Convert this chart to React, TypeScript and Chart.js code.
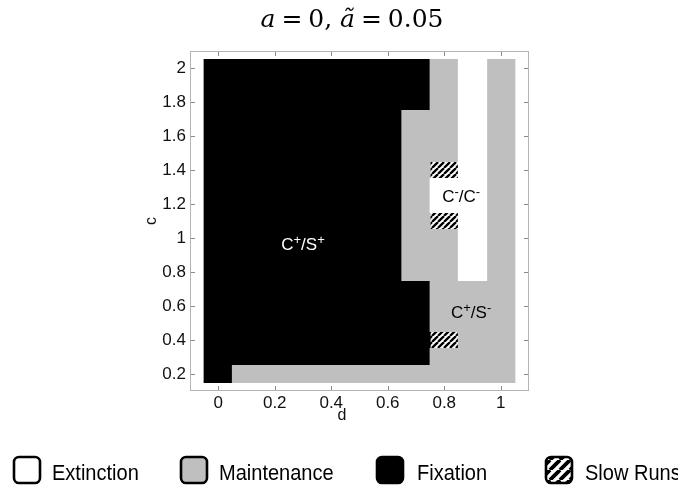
import React, { useEffect, useRef } from "react";
import { Chart, registerables } from "chart.js";

Chart.register(...registerables);

// ---- data ----
const dValues = [0, 0.1, 0.2, 0.3, 0.4, 0.5, 0.6, 0.7, 0.8, 0.9, 1.0];
const cValues = [2.0, 1.9, 1.8, 1.7, 1.6, 1.5, 1.4, 1.3, 1.2, 1.1, 1.0, 0.9, 0.8, 0.7, 0.6, 0.5, 0.4, 0.3, 0.2];
// E = Extinction, M = Maintenance, F = Fixation, S = Slow Runs ; one string per c row, one char per d column
const stateRows = [
  "FFFFFFFFMEM", // 2.0
  "FFFFFFFFMEM", // 1.9
  "FFFFFFFFMEM", // 1.8
  "FFFFFFFMMEM", // 1.7
  "FFFFFFFMMEM", // 1.6
  "FFFFFFFMMEM", // 1.5
  "FFFFFFFMSEM", // 1.4
  "FFFFFFFMEEM", // 1.3
  "FFFFFFFMEEM", // 1.2
  "FFFFFFFMSEM", // 1.1
  "FFFFFFFMMEM", // 1.0
  "FFFFFFFMMEM", // 0.9
  "FFFFFFFMMEM", // 0.8
  "FFFFFFFFMMM", // 0.7
  "FFFFFFFFMMM", // 0.6
  "FFFFFFFFMMM", // 0.5
  "FFFFFFFFSMM", // 0.4
  "FFFFFFFFMMM", // 0.3
  "FMMMMMMMMMM", // 0.2
];
const categoryCodes = ["E", "M", "F", "S"];
const categoryNames = ["Extinction", "Maintenance", "Fixation", "Slow Runs"];
const xTickValues = [0, 0.2, 0.4, 0.6, 0.8, 1];
const yTickValues = [0.2, 0.4, 0.6, 0.8, 1, 1.2, 1.4, 1.6, 1.8, 2];
const regionLabelText = [
  [["C", "+"], ["S", "+"]],
  [["C", "-"], ["C", "-"]],
  [["C", "+"], ["S", "-"]],
];
const regionLabelD = [0.3, 0.86, 0.895];
const regionLabelC = [0.965, 1.25, 0.565];
const regionLabelColor = ["#ffffff", "#000000", "#000000"];

const GRAY = "#bfbfbf";
const SANS = "'Liberation Sans', Arial, sans-serif";
const HALF = 0.05; // half cell height in c units

function makeHatch(size: number, lw: number): CanvasPattern {
  const c = document.createElement("canvas");
  c.width = size;
  c.height = size;
  const g = c.getContext("2d")!;
  g.fillStyle = "#fff";
  g.fillRect(0, 0, size, size);
  g.strokeStyle = "#000";
  g.lineWidth = lw;
  g.beginPath();
  for (let k = -1; k <= 1; k++) {
    g.moveTo(k * size, size);
    g.lineTo(size + k * size, 0);
  }
  g.stroke();
  return g.createPattern(c, "repeat")!;
}

function drawSuperLabel(ctx: CanvasRenderingContext2D, parts: string[][], cx: number, cy: number, color: string) {
  const big = `17px ${SANS}`;
  const small = `13px ${SANS}`;
  const pieces: { t: string; f: string; dy: number }[] = [];
  parts.forEach((p, i) => {
    if (i > 0) pieces.push({ t: "/", f: big, dy: 0 });
    pieces.push({ t: p[0], f: big, dy: 0 });
    pieces.push({ t: p[1] === "-" ? "-" : "+", f: small, dy: -6 });
  });
  let w = 0;
  const ws = pieces.map((p) => {
    ctx.font = p.f;
    const m = ctx.measureText(p.t).width;
    w += m;
    return m;
  });
  let x = cx - w / 2;
  ctx.fillStyle = color;
  ctx.textBaseline = "alphabetic";
  ctx.textAlign = "left";
  pieces.forEach((p, i) => {
    ctx.font = p.f;
    ctx.fillText(p.t, x, cy + 6 + p.dy);
    x += ws[i];
  });
}

export default function App() {
  const ref = useRef<HTMLCanvasElement>(null);

  useEffect(() => {
    const canvas = ref.current!;
    const cellHatch = makeHatch(6, 2.3);
    const legendHatch = makeHatch(10, 3.8);
    const fills = ["#ffffff", GRAY, "#000000", cellHatch];

    // one floating bar per vertical run of equal state in each d column
    const datasets = categoryCodes.map((code, k) => {
      const data: { x: number; y: [number, number] }[] = [];
      dValues.forEach((d, j) => {
        let r = 0;
        while (r < cValues.length) {
          if (stateRows[r][j] !== code) {
            r++;
            continue;
          }
          let e = r;
          while (e + 1 < cValues.length && stateRows[e + 1][j] === code) e++;
          data.push({ x: d, y: [cValues[e] - HALF, cValues[r] + HALF] });
          r = e + 1;
        }
      });
      return {
        label: categoryNames[k],
        data,
        backgroundColor: fills[k] as any,
        borderWidth: 0,
        grouped: false,
        barPercentage: 1,
        categoryPercentage: 1,
        inflateAmount: 0.5,
      };
    });

    const decor = {
      id: "decor",
      afterDraw(chart: any) {
        const ctx: CanvasRenderingContext2D = chart.ctx;
        const xs = chart.scales.x;
        const ys = chart.scales.y;
        const { left, right, top, bottom } = chart.chartArea;
        ctx.save();
        // box
        ctx.strokeStyle = "#b4b4b4";
        ctx.lineWidth = 1;
        ctx.strokeRect(Math.round(left) + 0.5, Math.round(top) + 0.5, Math.round(right - left) - 1, Math.round(bottom - top) - 1);
        // inward ticks
        ctx.strokeStyle = "#8a8a8a";
        ctx.beginPath();
        xTickValues.forEach((v) => {
          const px = Math.round(xs.getPixelForValue(v)) + 0.5;
          ctx.moveTo(px, bottom - 1);
          ctx.lineTo(px, bottom - 5);
          ctx.moveTo(px, top + 1);
          ctx.lineTo(px, top + 5);
        });
        yTickValues.forEach((v) => {
          const py = Math.round(ys.getPixelForValue(v)) + 0.5;
          ctx.moveTo(left + 1, py);
          ctx.lineTo(left + 5, py);
          ctx.moveTo(right - 1, py);
          ctx.lineTo(right - 5, py);
        });
        ctx.stroke();

        // axis titles
        ctx.fillStyle = "#111";
        ctx.font = `16px ${SANS}`;
        ctx.textAlign = "center";
        ctx.textBaseline = "middle";
        ctx.fillText("d", 342, 416);
        ctx.save();
        ctx.translate(152, (top + bottom) / 2);
        ctx.rotate(-Math.PI / 2);
        ctx.fillText("c", 0, 0);
        ctx.restore();

        // region labels
        regionLabelText.forEach((parts, i) => {
          drawSuperLabel(ctx, parts, xs.getPixelForValue(regionLabelD[i]), ys.getPixelForValue(regionLabelC[i]), regionLabelColor[i]);
        });

        // title: a = 0, ã = 0.05
        const serif = "'DejaVu Serif', serif";
        const fs = 25;
        const tparts = [
          { t: "a", f: `italic ${fs}px ${serif}` },
          { g: 1 },
          { t: "=", f: `${fs}px ${serif}` },
          { g: 1 },
          { t: "0,", f: `${fs}px ${serif}` },
          { g: 1.3 },
          { t: "\u00e3", f: `italic ${fs}px ${serif}` },
          { g: 1 },
          { t: "=", f: `${fs}px ${serif}` },
          { g: 1 },
          { t: "0.05", f: `${fs}px ${serif}` },
        ] as any[];
        let tw = 0;
        let gsum = 0;
        tparts.forEach((p) => {
          if (p.t) {
            ctx.font = p.f;
            p.w = ctx.measureText(p.t).width;
            tw += p.w;
          } else gsum += p.g;
        });
        const target = 183;
        const unit = Math.max(1, (target - tw) / gsum);
        let tx = 352 - (tw + unit * gsum) / 2;
        ctx.textAlign = "left";
        ctx.textBaseline = "alphabetic";
        ctx.fillStyle = "#000";
        tparts.forEach((p) => {
          if (p.t) {
            ctx.font = p.f;
            ctx.fillText(p.t, tx, 27);
            tx += p.w;
          } else tx += unit * p.g;
        });

        // legend
        const boxX = [13, 180, 376, 545];
        const textX = [52, 219, 417, 585];
        const legendFill = ["#ffffff", GRAY, "#000000", legendHatch];
        boxX.forEach((bx, i) => {
          ctx.save();
          ctx.beginPath();
          ctx.roundRect(bx + 1, 457, 26, 26, 5);
          ctx.fillStyle = legendFill[i] as any;
          ctx.fill();
          ctx.lineWidth = 2.6;
          ctx.strokeStyle = "#000";
          ctx.stroke();
          ctx.restore();
          ctx.save();
          ctx.translate(textX[i], 480);
          ctx.scale(0.91, 1);
          ctx.font = `22px ${SANS}`;
          ctx.fillStyle = "#000";
          ctx.textAlign = "left";
          ctx.textBaseline = "alphabetic";
          ctx.fillText(categoryNames[i], 0, 0);
          ctx.restore();
        });
        ctx.restore();
      },
    };

    const chart = new Chart(canvas, {
      type: "bar",
      data: { datasets: datasets as any },
      options: {
        responsive: false,
        animation: false,
        events: [],
        layout: { padding: { top: 51, right: 149, bottom: 0, left: 0 } },
        plugins: { legend: { display: false }, tooltip: { enabled: false }, title: { display: false } },
        scales: {
          x: {
            type: "linear",
            min: -0.1,
            max: 1.1,
            offset: false,
            grid: { display: false, drawTicks: false },
            border: { display: false },
            afterBuildTicks: (s: any) => {
              s.ticks = xTickValues.map((v) => ({ value: v }));
            },
            afterFit: (s: any) => {
              s.height = 96;
            },
            ticks: {
              padding: 2,
              color: "#111",
              font: { family: SANS, size: 17 },
              maxRotation: 0,
              autoSkip: false,
              callback: (v: any) => String(Math.round(Number(v) * 10) / 10),
            },
          },
          y: {
            type: "linear",
            min: 0.1,
            max: 2.1,
            grid: { display: false, drawTicks: false },
            border: { display: false },
            afterBuildTicks: (s: any) => {
              s.ticks = yTickValues.map((v) => ({ value: v }));
            },
            afterFit: (s: any) => {
              s.width = 190;
            },
            ticks: {
              padding: 4,
              color: "#111",
              font: { family: SANS, size: 17 },
              autoSkip: false,
              callback: (v: any) => String(Math.round(Number(v) * 10) / 10),
            },
          },
        },
      },
      plugins: [decor],
    });
    return () => chart.destroy();
  }, []);

  return (
    <div style={{ position: "fixed", left: 0, top: 0, width: 678, height: 487, background: "#fff" }}>
      <canvas ref={ref} width={678} height={487} style={{ display: "block" }} />
    </div>
  );
}
